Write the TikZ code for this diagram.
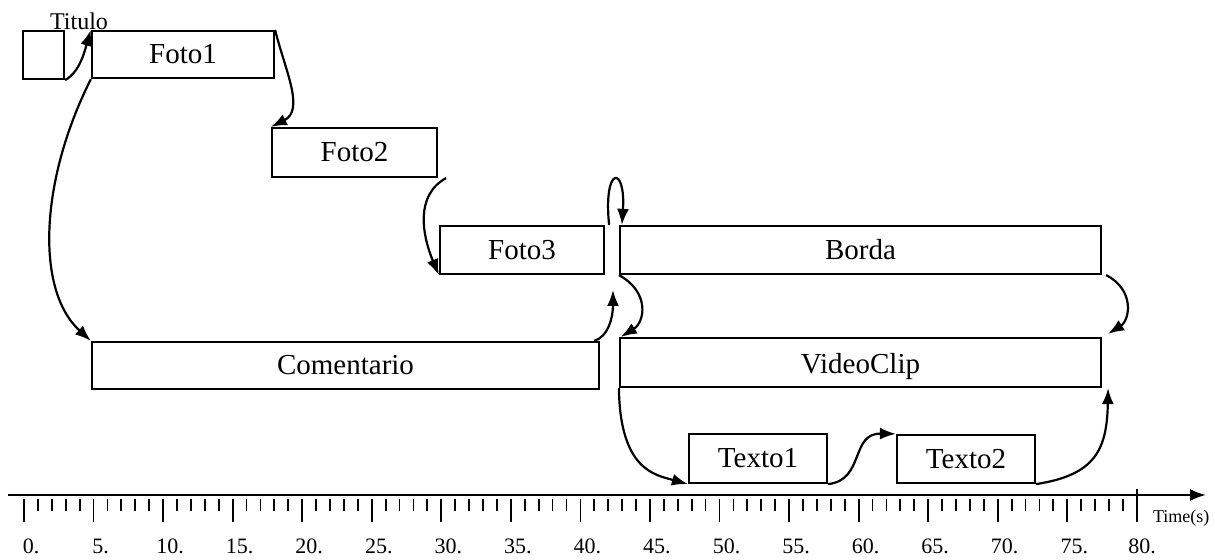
\documentclass[tikz,border=0pt]{standalone}
\usepackage{fontspec}
\setmainfont{Liberation Serif}
\usetikzlibrary{arrows.meta,fit}

\begin{document}
\begin{tikzpicture}[
  x=0.5pt, y=-0.5pt,
  box/.style={draw,line width=1.1pt,inner sep=0pt},
  boxtext/.style={font=\fontsize{14.5}{16}\selectfont,inner sep=0pt},
  arrow/.style={-{Latex[length=8pt,width=6pt]},line width=1.1pt},
  ticmark/.style={line width=0.9pt},
  numlbl/.style={font=\fontsize{11}{13}\selectfont}
]
  \useasboundingbox (0,0) rectangle (1215,560);
  % media objects on the timeline
  \node[box,fit={(23,31) (64,79)}] (titulo) {};
  \node[font=\fontsize{12}{14}\selectfont] (titulolbl) at (79,21) {Titulo};
  \node[box,fit={(92,31) (274,78)},label={[boxtext]center:Foto1}] (foto1) {};
  \node[box,fit={(272,128) (437,177)},label={[boxtext]center:Foto2}] (foto2) {};
  \node[box,fit={(440,226) (604,274)},label={[boxtext]center:Foto3}] (foto3) {};
  \node[box,fit={(620,226) (1101,274)},label={[boxtext]center:Borda}] (borda) {};
  \node[box,fit={(92,342) (599,389)},label={[boxtext]center:Comentario}] (comentario) {};
  \node[box,fit={(620,338) (1101,387)},label={[boxtext,yshift=-2pt]center:VideoClip}] (videoclip) {};
  \node[box,fit={(689,434) (827,483)},label={[boxtext]center:Texto1}] (texto1) {};
  \node[box,fit={(897,435) (1035,483)},label={[boxtext]center:Texto2}] (texto2) {};
  \coordinate (gap) at (613,290);
  % synchronisation links
  \draw[arrow] (titulo.south east) .. controls (80,72) and (85,50) .. (foto1.north west);
  \draw[arrow] (foto1.south west) .. controls (40,180) and (35,290) .. (comentario.north west);
  \draw[arrow] (foto1.north east) .. controls (285,70) and (305,110) .. (foto2.north west);
  \draw[arrow] ([xshift=4pt]foto2.south east) .. controls (415,195) and (422,235) .. (foto3.south west);
  \draw[arrow] ([xshift=2pt]foto3.north east) .. controls (603,165) and (626,165) .. ([xshift=1.5pt]borda.north west);
  \draw[arrow] (borda.south west) .. controls (650,292) and (645,322) .. ([xshift=1pt]videoclip.north west);
  \draw[arrow] ([xshift=-3pt]comentario.north east) .. controls (608,337) and (613,318) .. (gap);
  \draw[arrow] (videoclip.south west) .. controls (620,470) and (655,475) .. (texto1.south west);
  \draw[arrow] (texto1.south east) .. controls (865,480) and (850,433) .. (texto2.north west);
  \draw[arrow] (texto2.south east) .. controls (1095,475) and (1107,450) .. ([xshift=3pt]videoclip.south east);
  \draw[arrow] ([xshift=2pt]borda.south east) .. controls (1135,290) and (1130,320) .. ([xshift=3pt,yshift=1.5pt]videoclip.north east);
  % time axis
  \coordinate (axstart) at (8,495);
  \coordinate (axend) at (1206,495);
  \draw[arrow] (axstart) -- (axend);
  \foreach \t in {0,...,79} {
    \pgfmathsetmacro\tx{24+13.91*\t}
    \draw[ticmark] (\tx,499) -- (\tx,511);
  }
  \foreach \t in {0,5,...,75} {
    \pgfmathsetmacro\tx{24+13.91*\t}
    \draw[ticmark] (\tx,499) -- (\tx,522);
    \node[numlbl] at (\tx+7,546) {\t.};
  }
  \draw[ticmark] (1137,489) -- (1137,522);
  \node[numlbl] (lbl80) at (1142,546) {80.};
  \node[font=\fontsize{9}{11}\selectfont,anchor=west] (timelbl) at (1146,518) {Time(s)};
\end{tikzpicture}
\end{document}
